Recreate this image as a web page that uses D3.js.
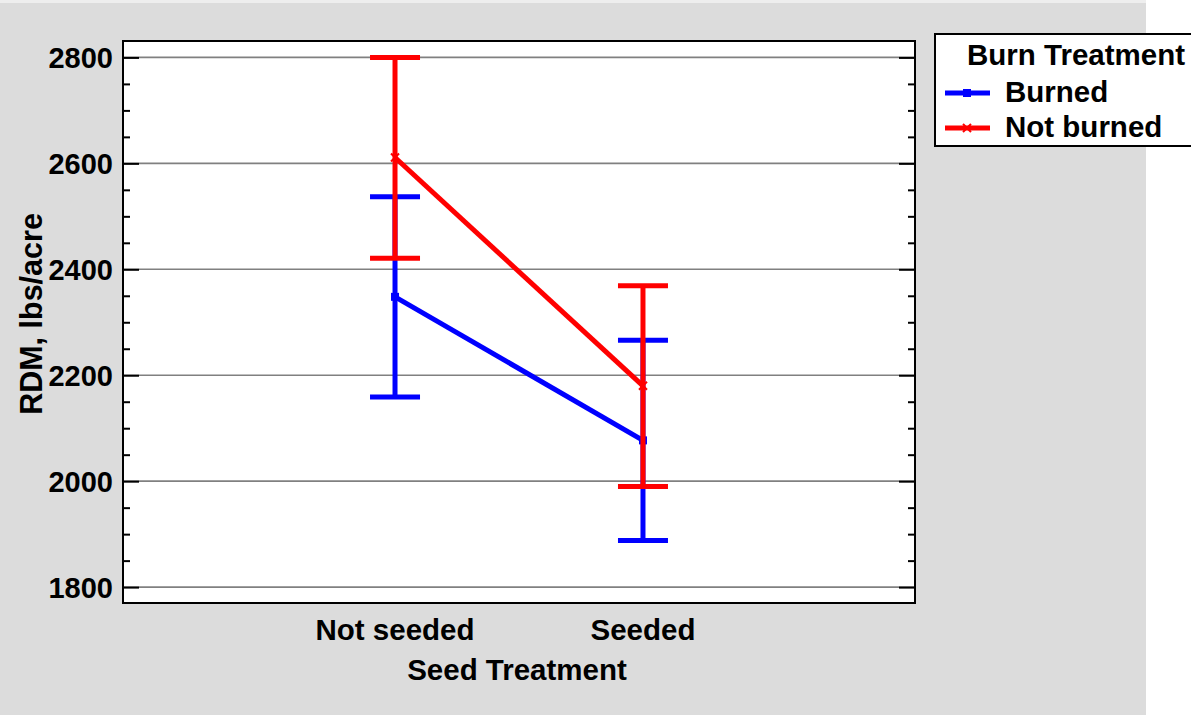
<!DOCTYPE html>
<html>
<head>
<meta charset="utf-8">
<script src="https://cdn.jsdelivr.net/npm/d3@7"></script>
<style>
  html, body { margin: 0; padding: 0; background: #ffffff; }
  svg { display: block; }
  text { font-family: "Liberation Sans", Arial, sans-serif; font-weight: bold; fill: #000; }
</style>
</head>
<body>
<svg id="chart" width="1191" height="715"></svg>
<script>
// ---- data ----
const categories = ["Not seeded", "Seeded"];
const seriesNames = ["Burned", "Not burned"];
const burnedMeans = [2348, 2077];
const burnedLower = [2159, 1888];
const burnedUpper = [2537, 2266];
const notBurnedMeans = [2611, 2180];
const notBurnedLower = [2421, 1990];
const notBurnedUpper = [2800, 2369];
const yTickValues = [1800, 2000, 2200, 2400, 2600, 2800];
const xTitle = "Seed Treatment";
const yTitle = "RDM, lbs/acre";
const legendTitle = "Burn Treatment";
const seriesColors = ["#0000ff", "#ff0000"];

const seriesData = [
  { name: seriesNames[0], color: seriesColors[0], marker: "square",
    pts: categories.map((c, i) => ({ c, m: burnedMeans[i], lo: burnedLower[i], hi: burnedUpper[i] })) },
  { name: seriesNames[1], color: seriesColors[1], marker: "cross",
    pts: categories.map((c, i) => ({ c, m: notBurnedMeans[i], lo: notBurnedLower[i], hi: notBurnedUpper[i] })) }
];

// ---- layout ----
const svg = d3.select("#chart");
const plot = { left: 123, right: 915, top: 41, bottom: 603 };
const FS = 29.5;

svg.append("rect").attr("x", 0).attr("y", 0).attr("width", 1146).attr("height", 3).attr("fill", "#eeeeee");
svg.append("rect").attr("x", 0).attr("y", 3).attr("width", 1146).attr("height", 712).attr("fill", "#dcdcdc");

const x = d3.scalePoint().domain(categories).range([plot.left, plot.right]).padding(1.097);
const y = d3.scaleLinear().domain([1770, 2831]).range([plot.bottom, plot.top]);

// plot background
svg.append("rect")
  .attr("x", plot.left).attr("y", plot.top)
  .attr("width", plot.right - plot.left).attr("height", plot.bottom - plot.top)
  .attr("fill", "#ffffff");

// grid
svg.append("g").selectAll("line").data(yTickValues).join("line")
  .attr("x1", plot.left).attr("x2", plot.right)
  .attr("y1", d => y(d)).attr("y2", d => y(d))
  .attr("stroke", "#808080").attr("stroke-width", 1.6);

// left axis (ticks inward)
const minorTicks = d3.range(1800, 2801, 50).filter(v => !yTickValues.includes(v));
const leftAxis = d3.axisRight(y).tickValues(yTickValues).tickSize(16).tickFormat("");
const gl = svg.append("g").attr("transform", `translate(${plot.left},0)`).call(leftAxis);
gl.select(".domain").remove();
gl.selectAll("line").attr("stroke", "#000").attr("stroke-width", 2);
const leftMinor = d3.axisRight(y).tickValues(minorTicks).tickSize(7).tickFormat("");
const glm = svg.append("g").attr("transform", `translate(${plot.left},0)`).call(leftMinor);
glm.select(".domain").remove();
glm.selectAll("line").attr("stroke", "#000").attr("stroke-width", 2);

// right axis (ticks inward)
const rightAxis = d3.axisLeft(y).tickValues(yTickValues).tickSize(16).tickFormat("");
const gr = svg.append("g").attr("transform", `translate(${plot.right},0)`).call(rightAxis);
gr.select(".domain").remove();
gr.selectAll("line").attr("stroke", "#000").attr("stroke-width", 2);
const rightMinor = d3.axisLeft(y).tickValues(minorTicks).tickSize(7).tickFormat("");
const grm = svg.append("g").attr("transform", `translate(${plot.right},0)`).call(rightMinor);
grm.select(".domain").remove();
grm.selectAll("line").attr("stroke", "#000").attr("stroke-width", 2);

// y tick labels
svg.append("g").selectAll("text").data(yTickValues).join("text")
  .attr("x", 113).attr("y", d => y(d) + 10.5)
  .attr("text-anchor", "end").attr("font-size", 29)
  .text(d => d);

// x tick labels
svg.append("g").selectAll("text").data(categories).join("text")
  .attr("x", d => x(d)).attr("y", 640)
  .attr("text-anchor", "middle").attr("font-size", FS)
  .text(d => d);

// axis titles
svg.append("text").attr("x", (plot.left + plot.right) / 2 - 2).attr("y", 680)
  .attr("text-anchor", "middle").attr("font-size", FS).text(xTitle);
svg.append("text").attr("transform", "translate(42,314) rotate(-90)")
  .attr("text-anchor", "middle").attr("font-size", 30.5).text(yTitle);

// frame
svg.append("rect")
  .attr("x", plot.left).attr("y", plot.top)
  .attr("width", plot.right - plot.left).attr("height", plot.bottom - plot.top)
  .attr("fill", "none").attr("stroke", "#000").attr("stroke-width", 2);

// series
const line = d3.line().x(d => x(d.c)).y(d => y(d.m));
function drawMarker(g, s, px, py) {
  if (s.marker === "square") {
    g.append("rect").attr("x", px - 4).attr("y", py - 4).attr("width", 8).attr("height", 8).attr("fill", s.color);
  } else {
    g.append("path")
      .attr("d", `M${px - 4},${py - 4}L${px + 4},${py + 4}M${px - 4},${py + 4}L${px + 4},${py - 4}`)
      .attr("stroke", s.color).attr("stroke-width", 2);
  }
}
seriesData.forEach(s => {
  const g = svg.append("g");
  g.selectAll("line.err").data(s.pts).join("line").attr("class", "err")
    .attr("x1", d => x(d.c)).attr("x2", d => x(d.c))
    .attr("y1", d => y(d.lo)).attr("y2", d => y(d.hi))
    .attr("stroke", s.color).attr("stroke-width", 5);
  ["lo", "hi"].forEach(k => {
    g.selectAll("line.cap" + k).data(s.pts).join("line").attr("class", "cap" + k)
      .attr("x1", d => x(d.c) - 25).attr("x2", d => x(d.c) + 25)
      .attr("y1", d => y(d[k])).attr("y2", d => y(d[k]))
      .attr("stroke", s.color).attr("stroke-width", 5);
  });
  g.append("path").datum(s.pts).attr("d", line)
    .attr("fill", "none").attr("stroke", s.color).attr("stroke-width", 5);
  s.pts.forEach(d => drawMarker(g, s, x(d.c), y(d.m)));
});

// legend
const lg = svg.append("g");
lg.append("rect").attr("x", 935).attr("y", 34).attr("width", 270).attr("height", 112)
  .attr("fill", "#ffffff").attr("stroke", "#000").attr("stroke-width", 2);
lg.append("text").attr("x", 967).attr("y", 65).attr("font-size", FS).text(legendTitle);
const legendY = [93, 128];
const legendBase = [102, 137];
seriesData.forEach((s, i) => {
  lg.append("line").attr("x1", 945).attr("x2", 990).attr("y1", legendY[i]).attr("y2", legendY[i])
    .attr("stroke", s.color).attr("stroke-width", 5);
  drawMarker(lg, s, 967, legendY[i]);
  lg.append("text").attr("x", 1005).attr("y", legendBase[i]).attr("font-size", FS).text(s.name);
});
</script>
</body>
</html>
